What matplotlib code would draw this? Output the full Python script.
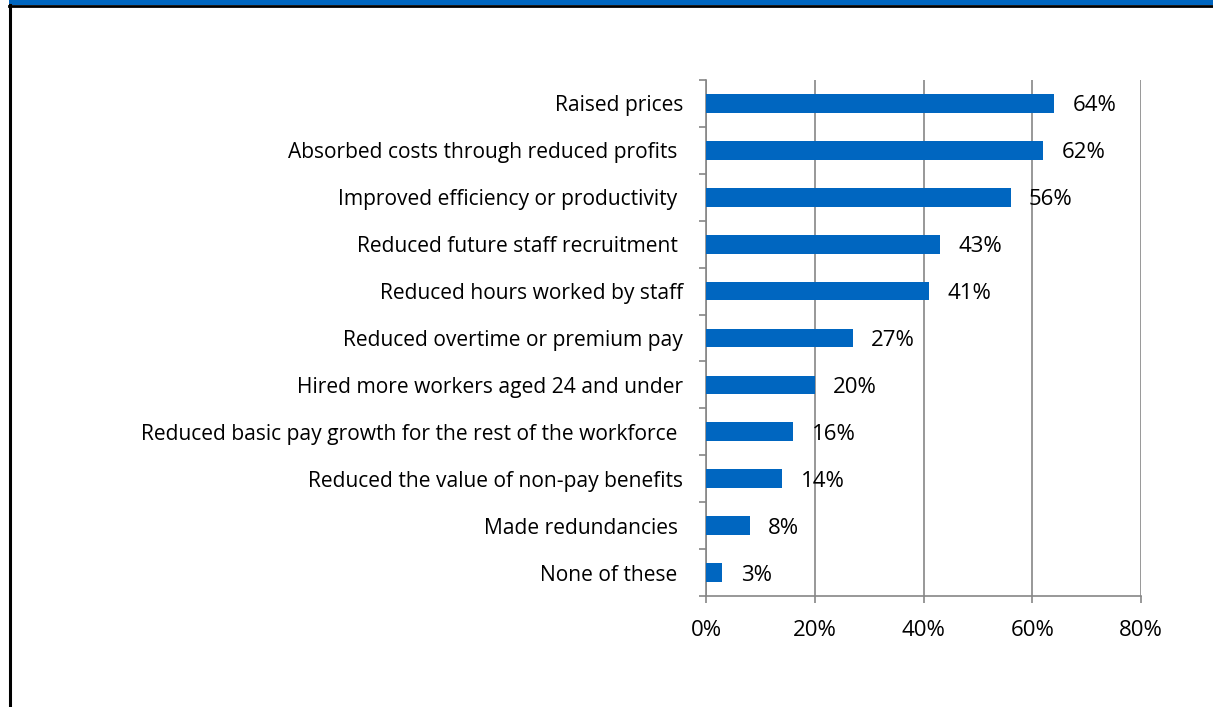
import matplotlib.pyplot as plt
from matplotlib.patches import Rectangle
from matplotlib.lines import Line2D
from matplotlib.ticker import FixedLocator

categories = [
    'Raised prices',
    'Absorbed costs through reduced profits ',
    'Improved efficiency or productivity ',
    'Reduced future staff recruitment ',
    'Reduced hours worked by staff',
    'Reduced overtime or premium pay',
    'Hired more workers aged 24 and under',
    'Reduced basic pay growth for the rest of the workforce ',
    'Reduced the value of non-pay benefits',
    'Made redundancies ',
    'None of these ',
]
values = [64, 62, 56, 43, 41, 27, 20, 16, 14, 8, 3]
xticks = [0, 20, 40, 60, 80]

plt.rcParams['font.family'] = ['Open Sans', 'DejaVu Sans']

W, H = 1213, 707
fig = plt.figure(figsize=(W / 100, H / 100), dpi=100)
fig.patch.set_facecolor('white')

# blue heading strip and frame lines at the top/left
fig.add_artist(Rectangle((9 / W, 1 - 5 / H), 1, 5 / H, transform=fig.transFigure,
                         facecolor='#0066C0', edgecolor='none'))
fig.add_artist(Line2D([9 / W, 1], [1 - 6 / H, 1 - 6 / H], transform=fig.transFigure,
                      color='black', linewidth=2))
fig.add_artist(Line2D([10 / W, 10 / W], [0, 1 - 5 / H], transform=fig.transFigure,
                      color='black', linewidth=2.2))

ax = fig.add_axes([706 / W, 1 - 596 / H, (1141 - 706) / W, (596 - 80) / H])

n = len(categories)
pos = list(range(n))
ax.barh(pos, values, height=0.4, color='#0066C0', zorder=3)
ax.set_ylim(n - 0.5, -0.5)
ax.set_xlim(0, 80)

for p, v in zip(pos, values):
    ax.text(v + 3.4, p, f'{v}%', va='center_baseline', ha='left', fontsize=16,
            color='black', zorder=4)

ax.set_xticks(xticks)
ax.set_xticklabels([f'{t}%' for t in xticks], fontsize=16)
ax.set_yticks(pos)
ax.set_yticklabels(categories, fontsize=15.1)
ax.yaxis.set_minor_locator(FixedLocator([i - 0.5 for i in range(n + 1)]))
ax.tick_params(axis='y', which='major', length=0, pad=16.5)
ax.tick_params(axis='y', which='minor', length=5, width=1.2, color='#868686')
ax.tick_params(axis='x', length=5, width=1.2, color='#868686', pad=12)

ax.grid(axis='x', color='#868686', linewidth=1.2, zorder=0)
for s in ['top', 'right']:
    ax.spines[s].set_visible(False)
for s in ['left', 'bottom']:
    ax.spines[s].set_color('#868686')
    ax.spines[s].set_linewidth(1.2)

plt.savefig('out.png', dpi=100)
